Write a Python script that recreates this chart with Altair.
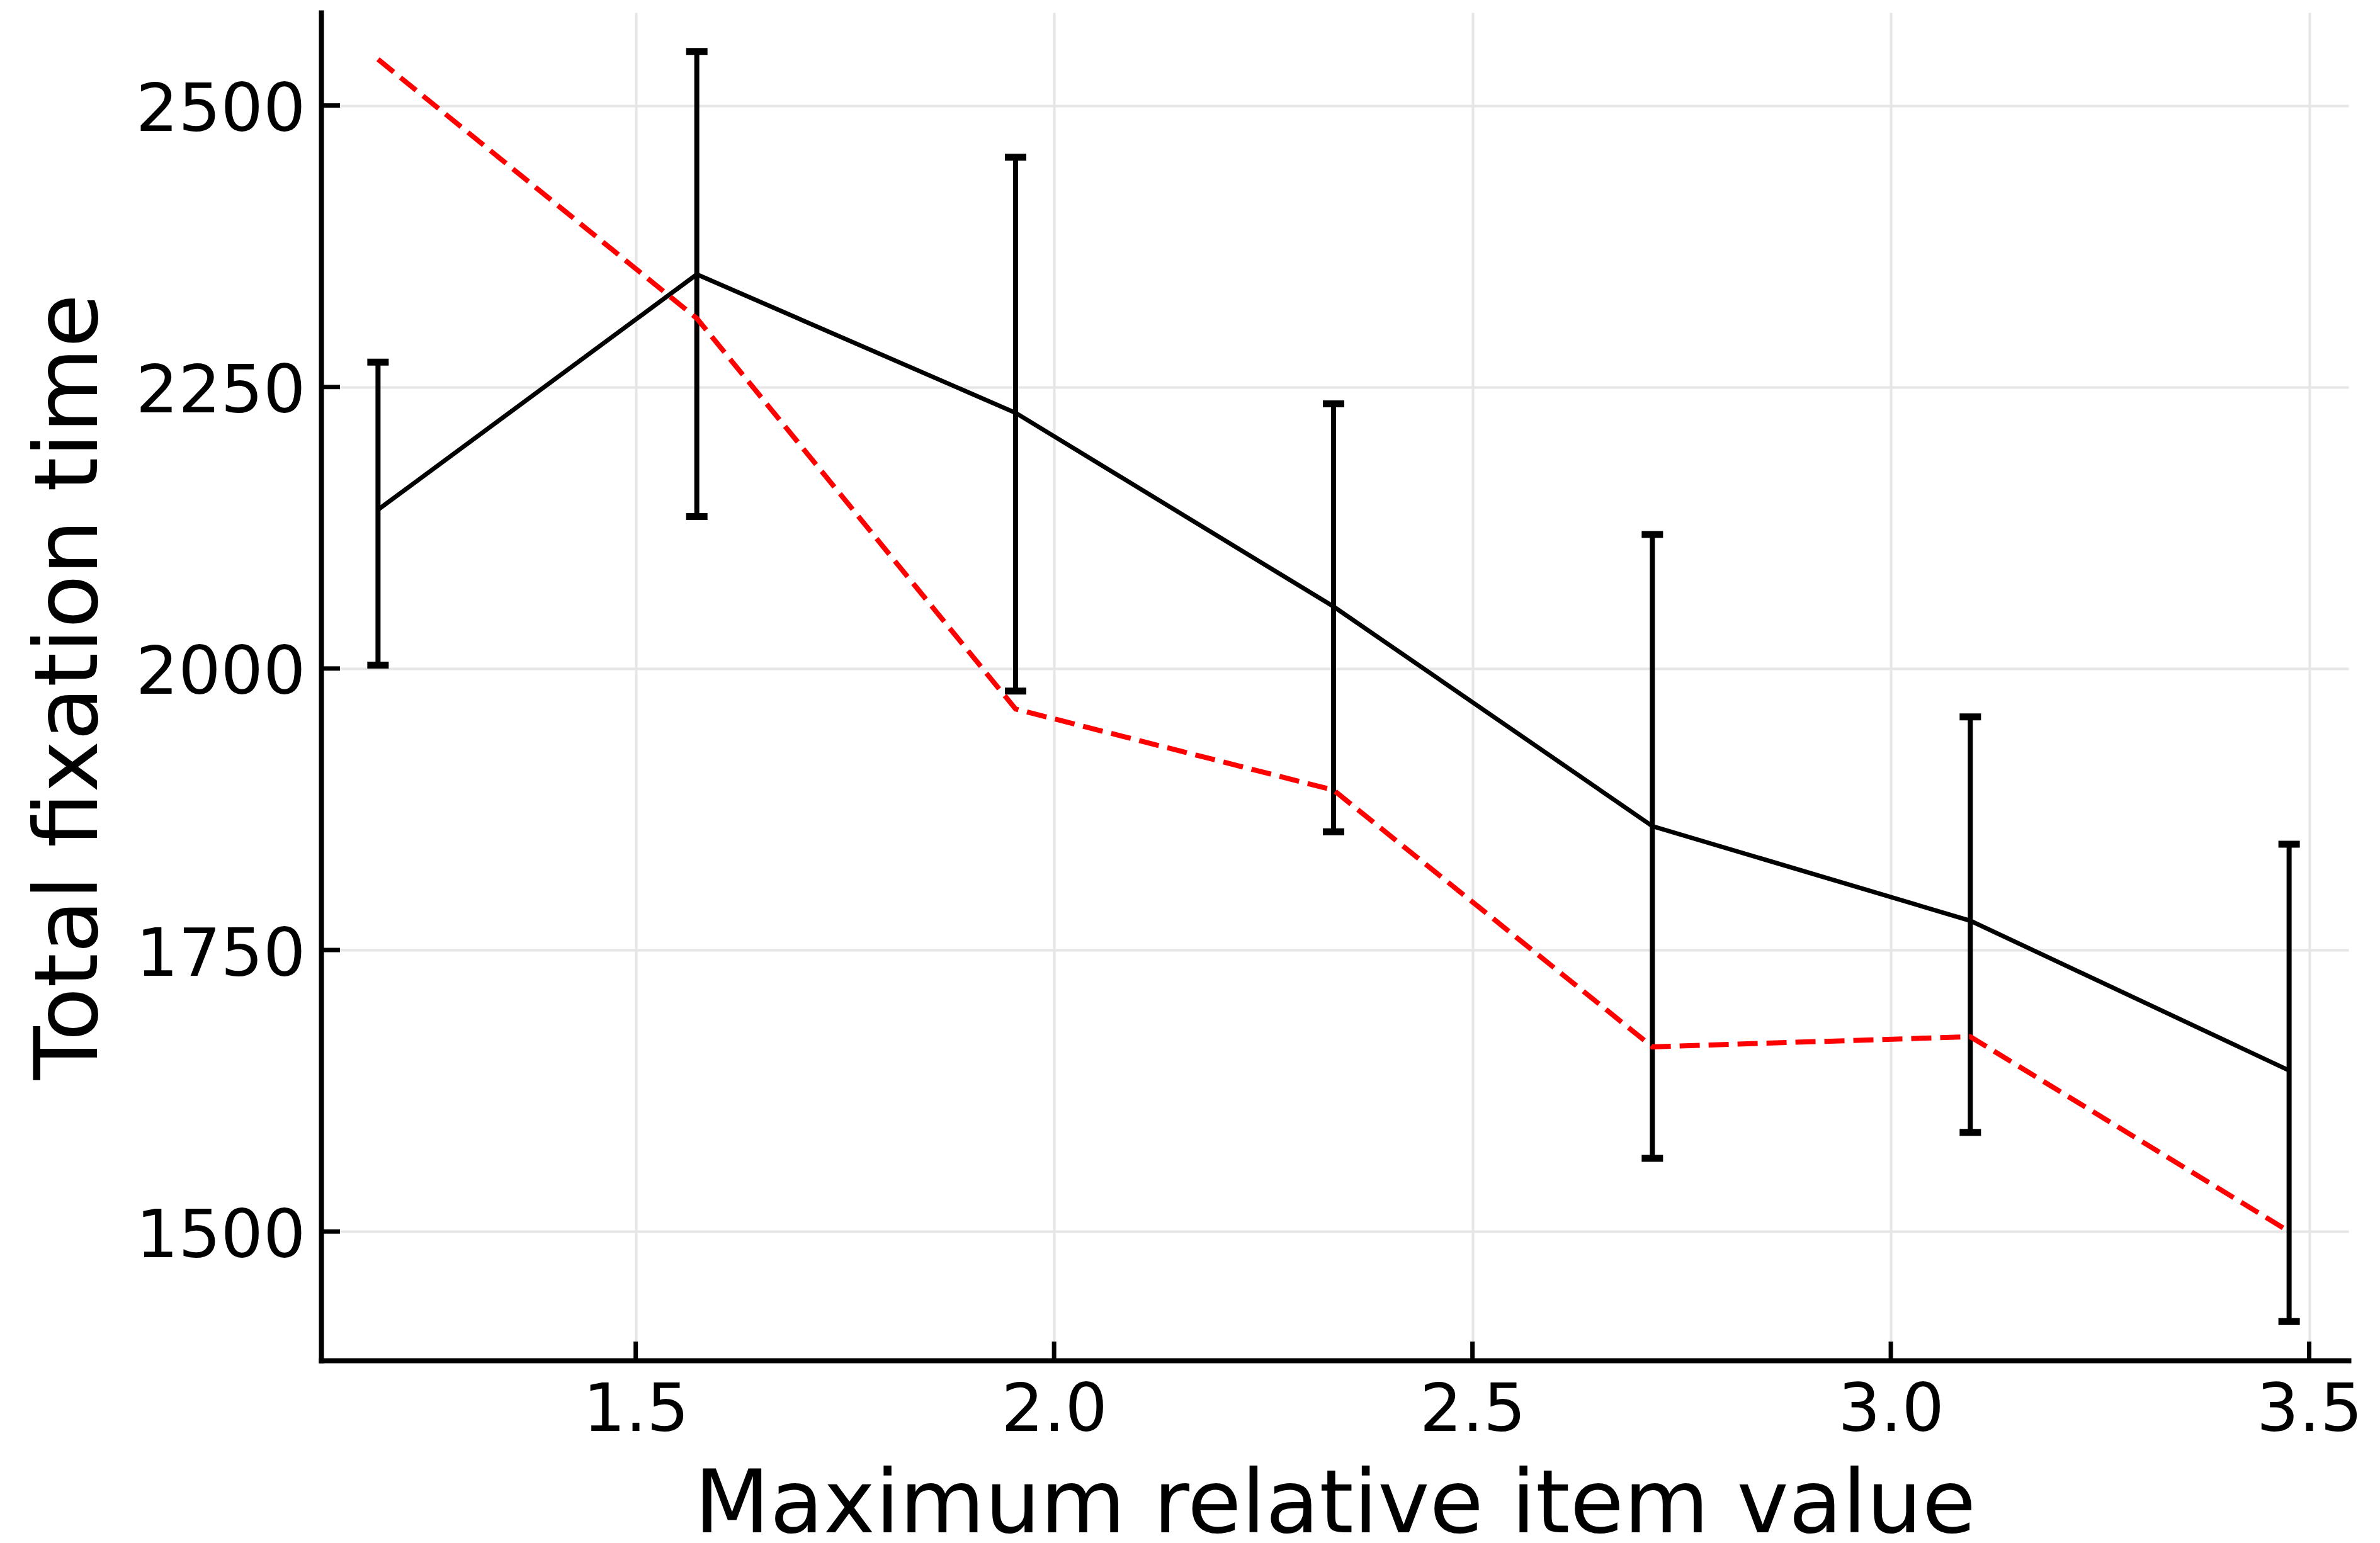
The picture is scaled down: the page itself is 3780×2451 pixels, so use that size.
import altair as alt
import pandas as pd

# Data
x_vals = [1.192, 1.573, 1.954, 2.334, 2.715, 3.095, 3.476]
mean_fix = [2141, 2350, 2227, 2055, 1860, 1776, 1643]
upper_fix = [2272, 2548, 2454, 2235, 2119, 1957, 1844]
lower_fix = [2003, 2135, 1980, 1855, 1565, 1588, 1420]
model_fix = [2541, 2311, 1964, 1892, 1664, 1673, 1500]
x_ticks = [1.5, 2.0, 2.5, 3.0, 3.5]
y_ticks = [1500, 1750, 2000, 2250, 2500]

W = 3220
H = 2141
FONT = "DejaVu Sans"

df = pd.DataFrame({"x": x_vals, "mean": mean_fix, "lo": lower_fix,
                   "hi": upper_fix, "model": model_fix})
xt = pd.DataFrame({"xt": x_ticks})
yt = pd.DataFrame({"yt": y_ticks})

xscale = alt.Scale(domain=[1.124, 3.547], nice=False, zero=False)
yscale = alt.Scale(domain=[1385.5, 2582.5], nice=False, zero=False)

xaxis = alt.Axis(
    values=x_ticks, format=".1f", title="Maximum relative item value",
    ticks=False, tickSize=0, labelPadding=111, labelBaseline="alphabetic",
    labelAlign="center", labelFontSize=106, labelFont=FONT, labelColor="black",
    labelLimit=0,
    titleFont=FONT, titleFontSize=139, titleFontWeight="normal", titleColor="black",
    titleX=W / 2, titleY=272, titleBaseline="alphabetic", titleAlign="center",
    titleLimit=0,
    domainColor="black", domainWidth=8, domainCap="square",
    grid=True, gridColor="#e6e6e6", gridWidth=4, labelFlush=False,
)
yaxis = alt.Axis(
    values=y_ticks, format="d", title="Total fixation time",
    ticks=False, tickSize=0, labelPadding=25, labelBaseline="alphabetic",
    labelOffset=40, labelAlign="right", labelLimit=0,
    labelFontSize=106, labelFont=FONT, labelColor="black",
    titleFont=FONT, titleFontSize=139, titleFontWeight="normal", titleColor="black",
    titleX=-357, titleY=H / 2, titleAngle=270, titleBaseline="alphabetic",
    titleAlign="center", titleLimit=0,
    domainColor="black", domainWidth=8, domainCap="square",
    grid=True, gridColor="#e6e6e6", gridWidth=4, labelFlush=False,
)

X = alt.X("x:Q", scale=xscale, axis=xaxis)

mean_line = alt.Chart(df).mark_line(color="black", strokeWidth=7).encode(
    x=X, y=alt.Y("mean:Q", scale=yscale, axis=yaxis)
)
stems = alt.Chart(df).mark_rule(color="black", strokeWidth=8).encode(
    x=X, y=alt.Y("lo:Q", scale=yscale, axis=yaxis), y2="hi:Q"
)
cap_hi = alt.Chart(df).mark_tick(color="black", orient="horizontal", size=34,
                                 thickness=11, opacity=1).encode(
    x=X, y=alt.Y("hi:Q", scale=yscale, axis=yaxis)
)
cap_lo = alt.Chart(df).mark_tick(color="black", orient="horizontal", size=34,
                                 thickness=11, opacity=1).encode(
    x=X, y=alt.Y("lo:Q", scale=yscale, axis=yaxis)
)
model_line = alt.Chart(df).mark_line(color="#ff0000", strokeWidth=8,
                                     strokeDash=[32, 14]).encode(
    x=X, y=alt.Y("model:Q", scale=yscale, axis=yaxis)
)

xtick_marks = alt.Chart(xt).mark_rule(color="black", strokeWidth=7).encode(
    x=alt.X("xt:Q", scale=xscale, axis=xaxis),
    y=alt.value(H), y2=alt.value(H - 30)
)
ytick_marks = alt.Chart(yt).mark_rule(color="black", strokeWidth=7).encode(
    y=alt.Y("yt:Q", scale=yscale, axis=yaxis),
    x=alt.value(0), x2=alt.value(30)
)

chart = alt.layer(
    xtick_marks, ytick_marks, mean_line, stems, cap_hi, cap_lo, model_line
).properties(
    width=W, height=H,
    autosize=alt.AutoSizeParams(type="none"),
    padding={"left": 502, "top": 12, "right": 42, "bottom": 282},
    background="white",
).configure_view(stroke=None).configure_axis(titlePadding=0)

chart.save("out.html", embed_options={"renderer": "svg", "actions": False})
